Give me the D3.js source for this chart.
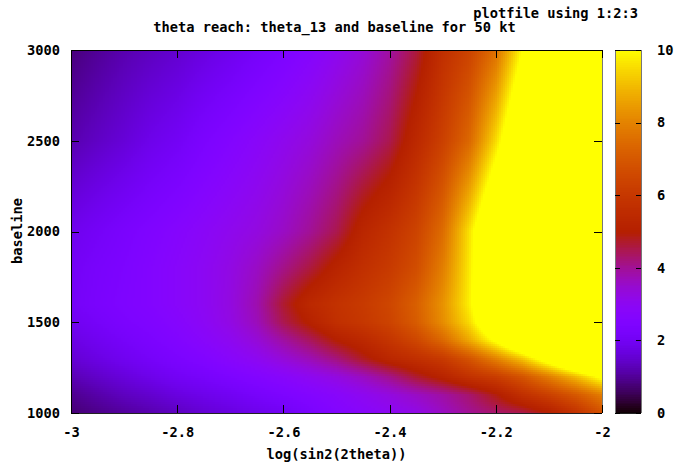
<!doctype html>
<html>
  <head>
    <script type="text/javascript" src="https://cdn.jsdelivr.net/npm/d3@7"></script>
    <style>
      html, body { margin: 0; padding: 0; background: #fff; }
      text { font-family: "DejaVu Sans Mono", monospace; font-weight: bold; font-size: 13.7px; fill: #000; }
    </style>
  </head>
<body>
<svg width="676" height="466"></svg>
<script>
// readings, one row per baseline, one value per log(sin2(2theta)) column
// anything over 10 is inside the saturated yellow, those numbers are only a guess
const logTheta = [-3, -2.95, -2.9, -2.85, -2.8, -2.75, -2.7, -2.65, -2.6, -2.55, -2.5, -2.45, -2.4, -2.35, -2.3, -2.25, -2.2, -2.15, -2.1, -2.05, -2];
const baselines = [1000, 1100, 1200, 1300, 1400, 1500, 1600, 1800, 2000, 2500, 3000];
const reach = [
  [0.75, 0.9, 1.05, 1.2, 1.35, 1.55, 1.7, 1.85, 2.0, 2.3, 2.6, 2.8, 3.0, 3.2, 3.6, 4.0, 4.3, 4.5, 5.0, 5.8, 6.8],
  [0.95, 1.15, 1.35, 1.5, 1.7, 1.85, 2.0, 2.2, 2.4, 2.6, 2.8, 3.05, 3.3, 3.6, 3.9, 4.3, 4.9, 5.7, 6.3, 7.0, 7.9],
  [1.25, 1.45, 1.65, 1.85, 2.05, 2.2, 2.4, 2.6, 2.8, 3.05, 3.3, 3.65, 4.1, 4.7, 5.2, 5.8, 6.2, 6.9, 7.9, 9.0, 10.3],
  [1.55, 1.75, 1.95, 2.15, 2.35, 2.55, 2.8, 3.05, 3.4, 3.75, 4.2, 4.8, 5.35, 5.7, 6.1, 6.9, 8.0, 9.2, 10.8, 12.5, 14],
  [1.75, 1.95, 2.15, 2.35, 2.55, 2.8, 3.05, 3.4, 3.9, 4.4, 5.0, 5.4, 5.9, 6.5, 7.4, 8.7, 10.2, 12, 14, 16, 18],
  [1.95, 2.15, 2.35, 2.5, 2.7, 2.95, 3.25, 3.7, 4.5, 5.1, 5.7, 6.0, 6.4, 7.1, 8.2, 9.5, 11.5, 13.5, 15.5, 17.5, 19],
  [2.1, 2.3, 2.45, 2.6, 2.8, 3.0, 3.3, 3.8, 4.7, 5.4, 5.8, 6.1, 6.5, 7.2, 8.3, 9.8, 12, 14, 16, 18, 20],
  [2.05, 2.25, 2.4, 2.6, 2.8, 3.0, 3.25, 3.6, 4.1, 4.6, 5.2, 5.7, 6.1, 6.7, 7.9, 9.7, 12, 14, 16, 18, 20],
  [1.9, 2.1, 2.3, 2.5, 2.7, 2.9, 3.1, 3.3, 3.6, 4.0, 4.5, 5.3, 5.8, 6.4, 7.5, 9.6, 12, 14, 16, 18, 20],
  [1.2, 1.4, 1.6, 1.85, 2.05, 2.35, 2.6, 2.85, 3.1, 3.35, 3.7, 4.0, 4.5, 5.4, 6.3, 7.4, 9.5, 12, 14, 16, 18],
  [0.8, 1.0, 1.2, 1.35, 1.5, 1.7, 1.9, 2.15, 2.4, 2.7, 3.05, 3.4, 3.9, 4.6, 5.7, 6.4, 7.6, 10, 12.5, 15, 17]
];
const xTickValues = [-3, -2.8, -2.6, -2.4, -2.2, -2];
const yTickValues = [1000, 1500, 2000, 2500, 3000];
const barTickValues = [0, 2, 4, 6, 8, 10];

var svg = d3.select("svg"),
    margin = {top: 50, right: 74, bottom: 53, left: 71},
    width = 676 - margin.left - margin.right,
    height = 466 - margin.top - margin.bottom;

const x = d3.scaleLinear().domain([-3, -2]).range([margin.left, margin.left + width]);
const y = d3.scaleLinear().domain([1000, 3000]).range([margin.top + height, margin.top]);
const z = d3.scaleLinear().domain([0, 10]).range([margin.top + height, margin.top]);

// gnuplot default pm3d palette, rgbformulae 7,5,15
const palette = t => {
  const r = Math.sqrt(t), g = t * t * t, b = Math.max(0, Math.sin(2 * Math.PI * t));
  return d3.rgb(r * 255, g * 255, b * 255).formatRgb();
};
const color = d3.scaleSequential(palette).domain([0, 10]).clamp(true);

// same as pm3d interpolate: shade small pieces between the readings
const lookup = (lt, b) => {
  const i = Math.min(d3.bisectRight(logTheta, lt) - 1, logTheta.length - 2);
  const j = Math.min(d3.bisectRight(baselines, b) - 1, baselines.length - 2);
  const tx = (lt - logTheta[i]) / (logTheta[i + 1] - logTheta[i]);
  const ty = (b - baselines[j]) / (baselines[j + 1] - baselines[j]);
  const low = reach[j][i] * (1 - tx) + reach[j][i + 1] * tx;
  const high = reach[j + 1][i] * (1 - tx) + reach[j + 1][i + 1] * tx;
  return low * (1 - ty) + high * ty;
};

const step = 2;
const pieces = [];
for (let px = x.range()[0]; px < x.range()[1]; px += step) {
  for (let py = y.range()[1]; py < y.range()[0]; py += step) {
    pieces.push({px: px, py: py, v: lookup(x.invert(px + step / 2), y.invert(py + step / 2))});
  }
}

svg.append("g")
  .attr("shape-rendering", "crispEdges")
  .selectAll("rect")
  .data(pieces)
  .enter()
  .append("rect")
    .attr("x", d => d.px)
    .attr("y", d => d.py)
    .attr("width", d => Math.min(step + 0.5, x.range()[1] - d.px))
    .attr("height", d => Math.min(step + 0.5, y.range()[0] - d.py))
    .style("fill", d => color(d.v));

// colour box
const barLeft = 615, barRight = 641;
svg.append("g")
  .attr("shape-rendering", "crispEdges")
  .selectAll("rect")
  .data(d3.range(0, 10, 0.05))
  .enter()
  .append("rect")
    .attr("x", barLeft)
    .attr("y", d => z(d + 0.05))
    .attr("width", barRight - barLeft)
    .attr("height", z(0) - z(0.05) + 0.5)
    .style("fill", d => color(d + 0.025));

// frames, the right hand edges come out grey in the picture
const edge = (x1, y1, x2, y2, stroke) => svg.append("line")
  .attr("x1", x1).attr("y1", y1).attr("x2", x2).attr("y2", y2)
  .attr("stroke", stroke).attr("shape-rendering", "crispEdges");

edge(x(-3), y(3000), x(-2), y(3000), "#000");
edge(x(-3), y(1000), x(-2), y(1000), "#222");
edge(x(-3), y(1000), x(-3), y(3000), "#000");
edge(x(-2), y(1000), x(-2), y(3000), "#777");
edge(barLeft, z(10), barRight, z(10), "#222");
edge(barLeft, z(0), barRight, z(0), "#222");
edge(barLeft, z(0), barLeft, z(10), "#777");
edge(barRight, z(0), barRight, z(10), "#777");

// axes, ticks point inward on all four sides
const tidy = g => {
  g.select(".domain").remove();
  g.selectAll("line").attr("stroke", "#000").attr("shape-rendering", "crispEdges");
};
const fmtX = d => String(d);

svg.append("g").attr("transform", `translate(0,${y(1000)})`)
  .call(d3.axisBottom(x).tickValues(xTickValues).tickFormat(fmtX).tickSize(-8).tickPadding(14))
  .call(tidy);
svg.append("g").attr("transform", `translate(0,${y(3000)})`)
  .call(d3.axisTop(x).tickValues(xTickValues).tickFormat("").tickSize(-8))
  .call(tidy);
svg.append("g").attr("transform", `translate(${x(-3)},0)`)
  .call(d3.axisLeft(y).tickValues(yTickValues).tickFormat(d3.format("d")).tickSize(-8).tickPadding(11))
  .call(tidy);
svg.append("g").attr("transform", `translate(${x(-2)},0)`)
  .call(d3.axisRight(y).tickValues(yTickValues).tickFormat("").tickSize(-8))
  .call(tidy);
svg.append("g").attr("transform", `translate(${barLeft},0)`)
  .call(d3.axisRight(z).tickValues(barTickValues).tickFormat("").tickSize(5))
  .call(tidy);
svg.append("g").attr("transform", `translate(${barRight},0)`)
  .call(d3.axisLeft(z).tickValues(barTickValues).tickFormat(d3.format("d")).tickSize(5))
  .call(tidy)
  .call(g => g.selectAll("text").attr("text-anchor", "start").attr("x", 16));

svg.selectAll("g").attr("font-family", null).attr("font-size", null);

// titles
svg.append("text").attr("x", 638).attr("y", 18).attr("text-anchor", "end").text("plotfile using 1:2:3");
svg.append("text").attr("x", 334.5).attr("y", 32).attr("text-anchor", "middle").text("theta reach: theta_13 and baseline for 50 kt");
svg.append("text").attr("x", 336.5).attr("y", 459).attr("text-anchor", "middle").text("log(sin2(2theta))");
svg.append("text").attr("transform", "translate(22,231) rotate(-90)").attr("text-anchor", "middle").text("baseline");
</script>
</body>
</html>
